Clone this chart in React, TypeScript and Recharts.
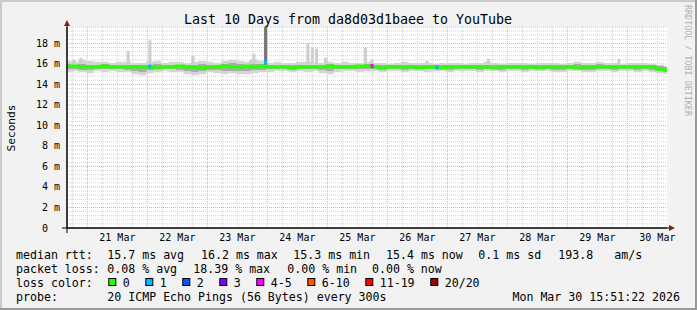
import React from 'react'
import {
  ComposedChart,
  Area,
  Line,
  Scatter,
  XAxis,
  YAxis,
  CartesianGrid,
  ReferenceArea,
} from 'recharts'

const MONO = '"DejaVu Sans Mono", monospace'

// time axis in hours since 20 Mar 00:00; graph ends Mon Mar 30 15:51:22
const START = 15.856
const END = START + 240
const Y_MAX = 19.6

// one sample every 3 hours (smoke + median), values in ms
const hours = Array.from({ length: 81 }, (_, i) => 16 + 3 * i)

const median = [
  15.8, 15.8, 15.7, 15.7, 15.7, 15.8, 15.7, 15.7,
  15.7, 15.7, 15.7, 15.7, 15.6, 15.7, 15.7, 15.8,
  15.7, 15.7, 15.6, 15.7, 15.7, 15.8, 15.7, 15.7,
  15.8, 15.7, 15.8, 15.7, 15.7, 15.7, 15.6, 15.7,
  15.7, 15.7, 15.7, 15.8, 15.7, 15.7, 15.7, 15.8,
  15.8, 15.7, 15.6, 15.7, 15.7, 15.7, 15.7, 15.6,
  15.7, 15.7, 15.6, 15.7, 15.7, 15.7, 15.7, 15.7,
  15.7, 15.6, 15.7, 15.7, 15.7, 15.7, 15.7, 15.6,
  15.7, 15.7, 15.7, 15.7, 15.6, 15.7, 15.7, 15.7,
  15.7, 15.7, 15.7, 15.7, 15.7, 15.7, 15.7, 15.5, 15.4,
]

const smokeHi = [
  16.3, 16.2, 16.4, 16.3, 16.2, 16.2, 16.1, 16.2,
  16.2, 16.1, 16.1, 16.2, 16.3, 16.1, 16.2, 16.2,
  16.1, 16.2, 16.3, 16.2, 16.1, 16.3, 16.4, 16.3,
  16.2, 16.4, 16.3, 16.1, 16.2, 16.1, 16.1, 16.2,
  16.2, 16.1, 16.1, 16.2, 16.1, 16.2, 16.1, 16.1,
  16.2, 16.1, 16.1, 16.0, 16.1, 16.2, 16.1, 16.1,
  16.1, 16.0, 16.1, 16.1, 16.1, 16.0, 16.1, 16.1,
  16.2, 16.1, 16.0, 16.1, 16.1, 16.1, 16.0, 16.1,
  16.1, 16.1, 16.0, 16.1, 16.2, 16.1, 16.1, 16.2,
  16.1, 16.1, 16.0, 16.1, 16.1, 16.1, 16.0, 15.9, 15.8,
]

const smokeLo = [
  15.2, 15.3, 15.2, 15.1, 15.3, 15.2, 15.3, 15.2,
  15.2, 15.0, 14.9, 15.1, 15.2, 15.3, 15.2, 15.2,
  15.0, 14.9, 15.0, 15.2, 15.1, 15.0, 15.1, 15.0,
  15.0, 15.1, 15.2, 15.2, 15.3, 15.3, 15.2, 15.3,
  15.2, 15.3, 15.1, 15.0, 15.2, 15.3, 15.3, 15.2,
  15.3, 15.3, 15.2, 15.3, 15.3, 15.2, 15.3, 15.3,
  15.2, 15.3, 15.3, 15.2, 15.3, 15.3, 15.3, 15.2,
  15.3, 15.3, 15.2, 15.3, 15.3, 15.2, 15.3, 15.3,
  15.3, 15.2, 15.2, 15.3, 15.3, 15.2, 15.2, 15.3,
  15.3, 15.2, 15.3, 15.3, 15.2, 15.3, 15.2, 15.1, 15.0,
]

const coreHi = [
  16.0, 15.9, 16.0, 15.9, 15.9, 16.0, 15.9, 15.9,
  15.9, 15.9, 15.9, 15.9, 16.0, 15.9, 15.9, 15.9,
  15.9, 15.9, 16.0, 15.9, 15.9, 16.0, 16.1, 16.0,
  15.9, 16.0, 16.0, 15.9, 15.9, 15.9, 15.9, 15.9,
  15.9, 15.9, 15.9, 16.0, 15.9, 15.9, 15.9, 15.9,
  16.0, 15.9, 15.9, 15.9, 15.9, 15.9, 15.9, 15.9,
  15.9, 15.9, 15.9, 15.9, 15.9, 15.9, 15.9, 15.9,
  15.9, 15.9, 15.9, 15.9, 15.9, 15.9, 15.9, 15.9,
  15.9, 15.9, 15.9, 15.9, 16.0, 15.9, 15.9, 16.0,
  15.9, 15.9, 15.9, 15.9, 15.9, 15.9, 15.9, 15.8, 15.7,
]

const coreLo = [
  15.5, 15.5, 15.4, 15.4, 15.5, 15.5, 15.5, 15.5,
  15.4, 15.3, 15.2, 15.4, 15.5, 15.5, 15.5, 15.4,
  15.3, 15.2, 15.3, 15.4, 15.4, 15.3, 15.3, 15.3,
  15.3, 15.4, 15.4, 15.5, 15.5, 15.5, 15.4, 15.5,
  15.5, 15.5, 15.4, 15.3, 15.5, 15.5, 15.5, 15.5,
  15.5, 15.5, 15.4, 15.5, 15.5, 15.4, 15.5, 15.5,
  15.5, 15.5, 15.5, 15.4, 15.5, 15.5, 15.5, 15.4,
  15.5, 15.5, 15.4, 15.5, 15.5, 15.4, 15.5, 15.5,
  15.5, 15.4, 15.4, 15.5, 15.5, 15.4, 15.4, 15.5,
  15.5, 15.4, 15.5, 15.5, 15.4, 15.5, 15.4, 15.3, 15.2,
]

// short outliers in the smoke
const spikeHours = [18.7, 21.4, 40.3, 49.0, 66.2, 89.2, 90.6, 95.3, 112.2, 114.0, 115.7, 119.3, 135.2, 137.9, 159.9, 184.4, 236.6]
const spikeTops = [16.4, 16.6, 17.3, 18.3, 16.8, 16.4, 17.0, 19.6, 18.0, 17.6, 17.5, 16.6, 17.6, 16.4, 16.3, 16.5, 16.5]
const spikeCoreTops = [null, null, null, null, null, null, null, 19.6, null, null, null, null, null, null, null, null, null]
const SPIKE_BASE = 16.0

// median samples that had packet loss
const lossHours = [49.0, 95.3, 137.9, 163.8]
const lossValues = [15.75, 16.15, 15.8, 15.65]
const lossLevels = [1, 1, 4, 1]

const lossLabels = ['0', '1', '2', '3', '4-5', '6-10', '11-19', '20/20']
const lossColors = ['#26ff00', '#00b8ff', '#0059ff', '#7e00ff', '#ff00ff', '#ff5500', '#ff0000', '#a10000']

const dayTicks = [36, 60, 84, 108, 132, 156, 180, 204, 228, 252]
const dayLabels = ['21 Mar', '22 Mar', '23 Mar', '24 Mar', '25 Mar', '26 Mar', '27 Mar', '28 Mar', '29 Mar', '30 Mar']
const midnights = [24, 48, 72, 96, 120, 144, 168, 192, 216, 240]
const sixHours = Array.from({ length: 40 }, (_, i) => 18 + 6 * i).filter((h) => h % 24 !== 0)
const yTicks = [0, 2, 4, 6, 8, 10, 12, 14, 16, 18]
const yMajor = [2, 4, 6, 8, 10, 12, 14, 16, 18]
const yMinor = Array.from({ length: 49 }, (_, i) => Math.round((i + 1) * 4) / 10).filter(
  (v) => Math.round(v * 10) % 20 !== 0
)

const rows = hours.map((t, i) => ({
  t,
  med: median[i],
  outer: [smokeLo[i], smokeHi[i]],
  core: [coreLo[i], coreHi[i]],
}))

const lossRows = lossHours.map((t, i) => ({ t, v: lossValues[i], lvl: lossLevels[i] }))

// grid positions through the axis scale (falls back to the plot offset)
const xGrid = (values: number[]) => ({ xAxis, offset }: any) =>
  values.map((h) =>
    xAxis && typeof xAxis.scale === 'function'
      ? xAxis.scale(h)
      : offset.left + ((h - START) / (END - START)) * offset.width
  )
const yGrid = (values: number[]) => ({ yAxis, offset }: any) =>
  values.map((v) =>
    yAxis && typeof yAxis.scale === 'function'
      ? yAxis.scale(v)
      : offset.top + (1 - v / Y_MAX) * offset.height
  )

const XTick = ({ x, y, payload }: any) => (
  <text x={x} y={y + 13} textAnchor="middle" fontSize={10} fontFamily={MONO} fill="#000">
    {dayLabels[dayTicks.indexOf(payload.value)]}
  </text>
)

const YTick = ({ x, y, payload }: any) => {
  const v = payload.value
  const label = `${String(v).padStart(2, ' ')} ${v === 0 ? ' ' : 'm'}`
  return (
    <text x={x - 31} y={y + 3.5} fontSize={10} fontFamily={MONO} fill="#000" style={{ whiteSpace: 'pre' }}>
      {label}
    </text>
  )
}

const LossDot = (props: any) => {
  const { cx, cy, payload } = props
  return <rect x={cx - 1.5} y={cy - 2} width={3} height={4} fill={lossColors[payload.lvl]} />
}

// legend box positions, laid out like rrdtool does
const legendBoxes: { x: number; label: string; color: string }[] = []
{
  let x = 108.3
  lossLabels.forEach((label, i) => {
    legendBoxes.push({ x, label, color: lossColors[i] })
    x += 30 + 7 * label.length
  })
}

const legendText = { fontSize: 11.6, fontFamily: MONO, fill: '#000', style: { whiteSpace: 'pre' as const } }

const CHART = {
  width: 697,
  height: 310,
  margin: { top: 27, right: 30, bottom: 62, left: 0 },
  style: { position: 'absolute' as const, left: 0, top: 0 },
}

export default function App() {
  return (
    <div style={{ position: 'relative', width: 697, height: 310, background: '#f2f2f2' }}>
      <style>{'body{margin:0}'}</style>

      {/* back layer: white canvas + reddish major grid */}
      <ComposedChart {...CHART} data={rows}>
        <CartesianGrid
          fill="#ffffff"
          fillOpacity={1}
          stroke="#f0a0a0"
          strokeDasharray="1 1"
          verticalCoordinatesGenerator={xGrid(midnights)}
          horizontalCoordinatesGenerator={yGrid(yMajor)}
        />
        <XAxis type="number" dataKey="t" domain={[START, END]} allowDataOverflow height={20} tick={false} tickLine={false} axisLine={false} />
        <YAxis type="number" domain={[0, Y_MAX]} allowDataOverflow width={67} tick={false} tickLine={false} axisLine={false} />
      </ComposedChart>

      {/* front layer: minor grid, axes and data */}
      <ComposedChart {...CHART} data={rows}>
        <CartesianGrid
          stroke="#d2d2d2"
          strokeDasharray="1 1"
          verticalCoordinatesGenerator={xGrid(sixHours)}
          horizontalCoordinatesGenerator={yGrid(yMinor)}
        />

        <XAxis
          type="number"
          dataKey="t"
          domain={[START, END]}
          ticks={dayTicks}
          interval={0}
          allowDataOverflow
          height={20}
          tickSize={0}
          tickMargin={0}
          tickLine={false}
          axisLine={{ stroke: '#000' }}
          tick={XTick}
        />
        <YAxis
          type="number"
          domain={[0, Y_MAX]}
          ticks={yTicks}
          interval={0}
          allowDataOverflow
          width={67}
          tickSize={0}
          tickMargin={0}
          tickLine={false}
          axisLine={{ stroke: '#000' }}
          tick={YTick}
        />

        <Area type="step" dataKey="outer" stroke="none" fill="#d5d5d5" fillOpacity={1} isAnimationActive={false} />
        <Area type="step" dataKey="core" stroke="none" fill="#aaaaaa" fillOpacity={1} isAnimationActive={false} />

        {spikeHours.map((h, i) => (
          <ReferenceArea
            key={'s' + i}
            x1={h - 0.6}
            x2={h + 0.6}
            y1={SPIKE_BASE}
            y2={spikeTops[i]}
            fill="#cdcdcd"
            fillOpacity={1}
            stroke="none"
            ifOverflow="hidden"
          />
        ))}
        {spikeHours.map((h, i) =>
          spikeCoreTops[i] == null ? null : (
            <ReferenceArea
              key={'c' + i}
              x1={h - 0.6}
              x2={h + 0.6}
              y1={SPIKE_BASE - 0.1}
              y2={spikeCoreTops[i] as number}
              fill="#747474"
              fillOpacity={1}
              stroke="none"
              ifOverflow="hidden"
            />
          )
        )}

        <Line type="step" dataKey="med" stroke="#26ff00" strokeWidth={3} dot={false} isAnimationActive={false} />
        <Scatter data={lossRows} dataKey="v" shape={LossDot} isAnimationActive={false} />
      </ComposedChart>

      <svg width={697} height={310} style={{ position: 'absolute', left: 0, top: 0, pointerEvents: 'none' }}>
        {/* frame shading */}
        <rect x={0} y={0} width={697} height={2} fill="#cbcbcb" />
        <rect x={0} y={0} width={2} height={310} fill="#cbcbcb" />
        <rect x={695} y={0} width={2} height={310} fill="#999" />
        <rect x={0} y={308} width={697} height={2} fill="#999" />

        {/* axis extensions and arrows */}
        <line x1={62} y1={228} x2={669} y2={228} stroke="#000" />
        <line x1={67} y1={233} x2={67} y2={24} stroke="#000" />
        <polygon points="64,26 70,26 67,20" fill="#8b1a1a" />
        <polygon points="669,225 669,231 675,228" fill="#8b1a1a" />

        <text x={348} y={24} textAnchor="middle" fontSize={13.3} fontFamily={MONO} fill="#000">
          Last 10 Days from da8d03d1baee to YouTube
        </text>
        <text x={15} y={128} transform="rotate(-90 15 128)" textAnchor="middle" fontSize={11.2} fontFamily={MONO} fill="#000">
          Seconds
        </text>
        <text x={685} y={5} transform="rotate(90 685 5)" fontSize={8.4} fontFamily={MONO} fill="#b0b0b0">
          RRDTOOL / TOBI OETIKER
        </text>

        <text x={16} y={259} {...legendText}>median rtt:</text>
        <text x={107.3} y={259} {...legendText}>15.7 ms avg</text>
        <text x={201} y={259} {...legendText}>16.2 ms max</text>
        <text x={293.3} y={259} {...legendText}>15.3 ms min</text>
        <text x={386} y={259} {...legendText}>15.4 ms now</text>
        <text x={478.3} y={259} {...legendText}>0.1 ms sd</text>
        <text x={558.3} y={259} {...legendText}>193.8</text>
        <text x={614.3} y={259} {...legendText}>am/s</text>

        <text x={16} y={273} {...legendText}>packet loss:</text>
        <text x={107.3} y={273} {...legendText}>0.08 % avg</text>
        <text x={193.3} y={273} {...legendText}>18.39 % max</text>
        <text x={287.3} y={273} {...legendText}>0.00 % min</text>
        <text x={372} y={273} {...legendText}>0.00 % now</text>

        <text x={16} y={287} {...legendText}>loss color:</text>
        {legendBoxes.map((b) => (
          <g key={b.label}>
            <rect x={b.x + 0.5} y={278.5} width={7} height={7} fill={b.color} stroke="#000" />
            <text x={b.x + 14.4} y={287} {...legendText}>{b.label}</text>
          </g>
        ))}

        <text x={16} y={301} {...legendText}>probe:</text>
        <text x={107.3} y={301} {...legendText}>20 ICMP Echo Pings (56 Bytes) every 300s</text>
        <text x={680} y={301} textAnchor="end" {...legendText}>Mon Mar 30 15:51:22 2026</text>
      </svg>
    </div>
  )
}
